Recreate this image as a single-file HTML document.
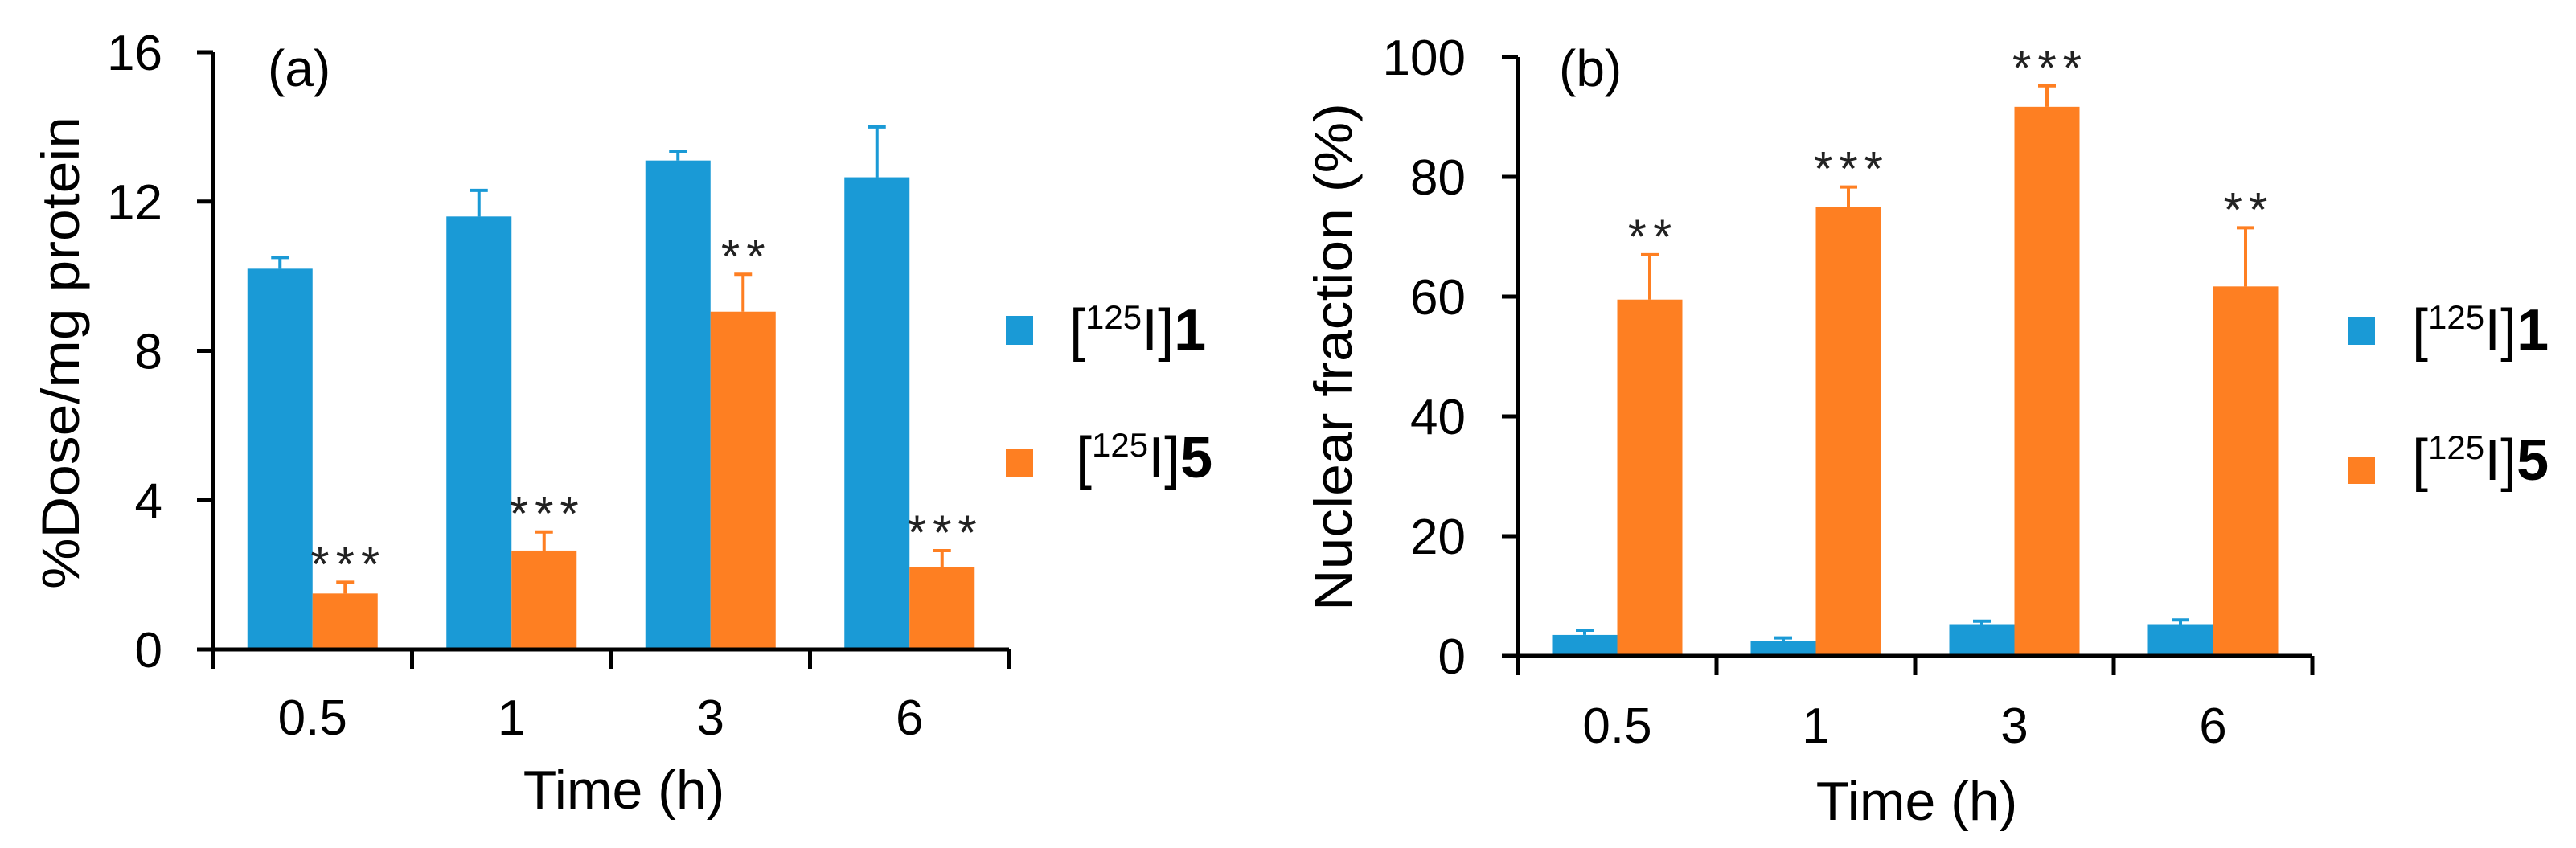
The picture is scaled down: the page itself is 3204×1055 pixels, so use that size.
<!DOCTYPE html>
<html><head><meta charset="utf-8"><style>
html,body{margin:0;padding:0;background:#fff;}
svg{display:block;font-family:"Liberation Sans",Arial,sans-serif;}
</style></head><body>
<svg id="chart" width="3204" height="1055" viewBox="0 0 3204 1055" xmlns="http://www.w3.org/2000/svg" style="position:absolute;left:0;top:0"></svg>
<script>
const categories = ["0.5","1","3","6"];
const aBlue = [10.2, 11.6, 13.1, 12.65];
const aBlueErr = [0.3, 0.7, 0.25, 1.35];
const aOrange = [1.5, 2.65, 9.05, 2.2];
const aOrangeErr = [0.3, 0.5, 1.0, 0.45];
const aStars = ["***","***","**","***"];
const aTicks = [0,4,8,12,16];
const bBlue = [3.5, 2.5, 5.3, 5.3];
const bBlueErr = [0.8, 0.5, 0.5, 0.7];
const bOrange = [59.5, 75, 91.7, 61.7];
const bOrangeErr = [7.5, 3.3, 3.5, 9.8];
const bStars = ["**","***","***","**"];
const bTicks = [0,20,40,60,80,100];

const NS="http://www.w3.org/2000/svg";
const svg=document.getElementById('chart');
function mk(tag,attrs,parent){const e=document.createElementNS(NS,tag);for(const k in attrs)e.setAttribute(k,attrs[k]);(parent||svg).appendChild(e);return e;}
const BLUE="#1a9ad6", ORANGE="#fe7f22";

function panel(o){
  const g=mk('g',{});
  
  
  const yS=v=>o.y0-(v/o.max)*(o.y0-o.yTop);
  const catW=(o.xEnd-o.x0)/categories.length;
  const bw=81;
  categories.forEach((c,i)=>{
    const cx=o.x0+catW*(i+0.5);
    [[o.blue,o.blueErr,BLUE,cx-bw,'blue'],[o.orange,o.orangeErr,ORANGE,cx,'orange']].forEach(([vals,errs,col,x,nm])=>{
      const top=yS(vals[i]);
      const r=mk('rect',{x:x,y:top,width:bw,height:o.y0-top,fill:col},g);
      
      
      const et=yS(vals[i]+errs[i]);
      const l=mk('path',{d:`M${x+bw/2},${top} V${et} M${x+bw/2-11},${et} H${x+bw/2+11}`,stroke:col,'stroke-width':4,fill:'none'},g);
      
      
    });
    const etO=yS(o.orange[i]+o.orangeErr[i]);
    const s=mk('text',{x:cx+bw/2+4,y:etO-2,'text-anchor':'middle','font-size':60,'letter-spacing':8,fill:'#222'},g);
    s.textContent=o.stars[i];
    
    
    const t=mk('text',{x:cx,y:o.xLabY,'text-anchor':'middle','font-size':62},g);
    t.textContent=c;
    
    
  });
  let d=`M${o.x0},${o.yTop} V${o.y0+24} M${o.x0-20},${o.y0} H${o.xEnd}`;
  o.ticks.forEach(v=>{d+=` M${o.x0-20},${yS(v)} H${o.x0}`;});
  for(let i=1;i<=categories.length;i++){const x=o.x0+catW*i;d+=` M${x},${o.y0} V${o.y0+24}`;}
  const ax=mk('path',{d:d,stroke:'#000','stroke-width':5,fill:'none'},g);
  
  
  o.ticks.forEach(v=>{
    const t=mk('text',{x:o.tickR,y:yS(v)+22,'text-anchor':'end','font-size':62},g);
    t.textContent=v;
    
    
  });
}
panel({name:'panel-a',x0:265,xEnd:1255,y0:808,yTop:65,max:16,blue:aBlue,blueErr:aBlueErr,orange:aOrange,orangeErr:aOrangeErr,stars:aStars,ticks:aTicks,tickR:202,xLabY:914});
panel({name:'panel-b',x0:1888,xEnd:2876,y0:816,yTop:71,max:100,blue:bBlue,blueErr:bBlueErr,orange:bOrange,orangeErr:bOrangeErr,stars:bStars,ticks:bTicks,tickR:1823,xLabY:924});
</script>
<svg style="position:absolute;left:0;top:0" width="3204" height="1055">
  <g font-family="Liberation Sans, Arial, sans-serif">
    <text x="333" y="107" font-size="64">(a)</text>
    <text x="1939" y="107" font-size="64">(b)</text>
    <text transform="translate(98,439) rotate(-90)" text-anchor="middle" font-size="66" textLength="588" lengthAdjust="spacingAndGlyphs">%Dose/mg protein</text>
    <text transform="translate(1681,444) rotate(-90)" text-anchor="middle" font-size="66" textLength="632" lengthAdjust="spacingAndGlyphs">Nuclear fraction (%)</text>
    <text x="776" y="1006" text-anchor="middle" font-size="68">Time (h)</text>
    <text x="2384" y="1020" text-anchor="middle" font-size="68">Time (h)</text>
    <g>
      <rect x="1251" y="393" width="34" height="36" fill="#1a9ad6"/>
      <text x="1330" y="435" font-size="72">[<tspan font-size="42" dy="-26">125</tspan><tspan dy="26">I]</tspan><tspan font-weight="bold">1</tspan></text>
      <rect x="1251" y="558" width="34" height="36" fill="#fe7f22"/>
      <text x="1338" y="594" font-size="72">[<tspan font-size="42" dy="-26">125</tspan><tspan dy="26">I]</tspan><tspan font-weight="bold">5</tspan></text>
    </g>
    <g>
      <rect x="2920" y="395" width="34" height="34" fill="#1a9ad6"/>
      <text x="3000" y="435" font-size="72">[<tspan font-size="42" dy="-26">125</tspan><tspan dy="26">I]</tspan><tspan font-weight="bold">1</tspan></text>
      <rect x="2920" y="568" width="34" height="34" fill="#fe7f22"/>
      <text x="3000" y="597" font-size="72">[<tspan font-size="42" dy="-26">125</tspan><tspan dy="26">I]</tspan><tspan font-weight="bold">5</tspan></text>
    </g>
  </g>
</svg>
</body></html>
